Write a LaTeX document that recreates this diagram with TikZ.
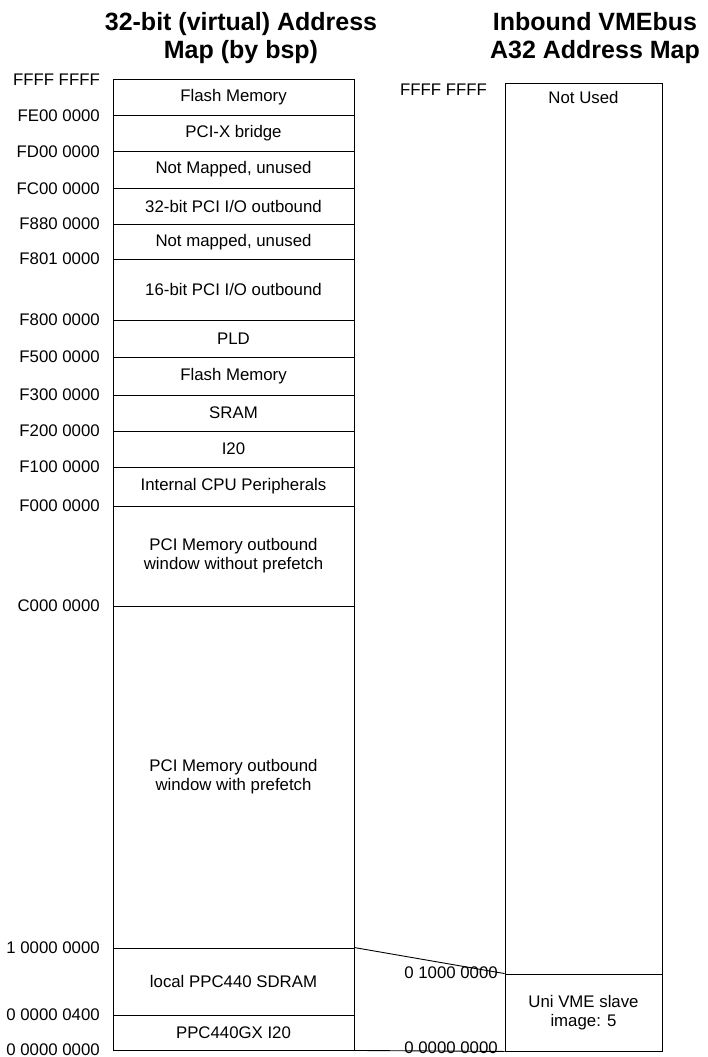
\documentclass[tikz,border=0pt]{standalone}
\usepackage{fontspec}
\setmainfont{Liberation Sans}
\newcommand\mybody{\fontsize{16.8}{19}\selectfont}
\newcommand\mytitle{\fontsize{25}{28}\selectfont\bfseries}
\begin{document}
\begin{tikzpicture}[x=1pt,y=-1pt,
  cell/.style={draw, line width=0.9pt, minimum width=241pt, inner sep=0pt, align=center, font=\mybody},
  rcell/.style={draw, line width=0.9pt, minimum width=157pt, inner sep=0pt, align=center, font=\mybody},
  addr/.style={anchor=east, inner sep=0pt, font=\mybody},
  ttl/.style={align=center, inner sep=0pt, font=\mytitle},
  link/.style={line width=0.9pt}]
\useasboundingbox (0,0) rectangle (707,1057);

% titles
\node[ttl] (t1) at (241,38) {32-bit (virtual) Address\\Map (by bsp)};
\node[ttl] (t2) at (595,38) {Inbound VMEbus\\A32 Address Map};

% left map
\node[cell, minimum height=36pt]   (flashA)  at (233.5,97)     {Flash Memory};
\node[cell, minimum height=36pt]   (pcix)    at (233.5,133)    {PCI-X bridge};
\node[cell, minimum height=37pt]   (notmapA) at (233.5,169.5)  {Not Mapped, unused};
\node[cell, minimum height=36pt]   (pcithirtytwo) at (233.5,206) {32-bit PCI I/O outbound};
\node[cell, minimum height=35.5pt] (notmapB) at (233.5,241.75) {Not mapped, unused};
\node[cell, minimum height=60.5pt] (pcisixteen) at (233.5,289.75) {16-bit PCI I/O outbound};
\node[cell, minimum height=37pt]   (pld)     at (233.5,338.5)  {PLD};
\node[cell, minimum height=38pt]   (flashB)  at (233.5,376)    {Flash Memory};
\node[cell, minimum height=36pt]   (sram)    at (233.5,413)    {SRAM};
\node[cell, minimum height=36pt]   (itwo)    at (233.5,449)    {I20};
\node[cell, minimum height=39pt]   (cpu)     at (233.5,486.5)  {Internal CPU Peripherals};
\node[cell, minimum height=100pt]  (pcinp)   at (233.5,556)    {PCI Memory outbound\\window without prefetch};
\node[cell, minimum height=342pt]  (pcip)    at (233.5,777)    {PCI Memory outbound\\window with prefetch};
\node[cell, minimum height=67pt]   (sdram)   at (233.5,981.5)  {local PPC440 SDRAM};
\node[cell, minimum height=35pt]   (ppc)     at (233.5,1032.5) {PPC440GX I20};

% left addresses
\node[addr] (a1)  at (100,80)    {FFFF FFFF};
\node[addr] (a2)  at (100,116)   {FE00 0000};
\node[addr] (a3)  at (100,152)   {FD00 0000};
\node[addr] (a4)  at (100,189)   {FC00 0000};
\node[addr] (a5)  at (100,224)   {F880 0000};
\node[addr] (a6)  at (100,259)   {F801 0000};
\node[addr] (a7)  at (100,320)   {F800 0000};
\node[addr] (a8)  at (100,357)   {F500 0000};
\node[addr] (a9)  at (100,395)   {F300 0000};
\node[addr] (a10) at (100,431)   {F200 0000};
\node[addr] (a11) at (100,467)   {F100 0000};
\node[addr] (a12) at (100,505.5) {F000 0000};
\node[addr] (a13) at (100,605.5) {C000 0000};
\node[addr] (a14) at (100,947.5) {1 0000 0000};
\node[addr] (a15) at (100,1015)  {0 0000 0400};
\node[addr] (a16) at (100,1049.5){0 0000 0000};

% right map
\node[rcell, minimum height=891pt] (notused) at (583.5,528.5) {};
\node[font=\mybody, inner sep=0pt] (notusedtxt) at (583.5,97) {Not Used};
\node[rcell, minimum height=77pt] (uni) at (583.5,1012.5) {Uni VME slave\\image: 5};

% right addresses
\node[addr] (b1) at (487,90)   {FFFF FFFF};
\node[addr] (b2) at (498,973)  {0 1000 0000};
\node[addr] (b3) at (498,1048) {0 0000 0000};

% connectors
\draw[link] (sdram.north east) -- (uni.north west);
\draw[link] (ppc.south east) -- (uni.south west);
\end{tikzpicture}
\end{document}
